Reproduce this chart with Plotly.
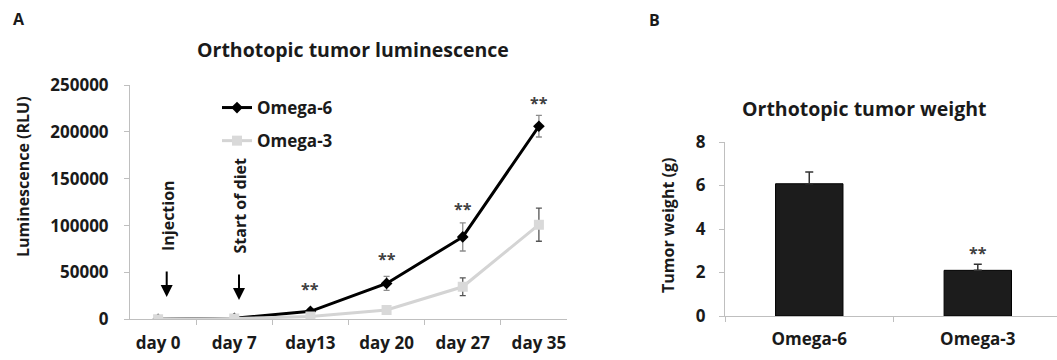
import plotly.graph_objects as go

# ---------------- data ----------------
days = ["day 0", "day 7", "day13", "day 20", "day 27", "day 35"]
omega6_lum = [0, 1000, 8500, 38300, 87900, 206000]
omega6_err = [0, 300, 2000, 7500, 15000, 11500]
omega3_lum = [0, 800, 3000, 10000, 34700, 101000]
omega3_err = [0, 300, 800, 1500, 9500, 17700]
sig_days = ["day13", "day 20", "day 27", "day 35"]

groups = ["Omega-6", "Omega-3"]
weight = [6.08, 2.1]
weight_err = [0.54, 0.28]
sig_groups = ["Omega-3"]

lum_ticks = [0, 50000, 100000, 150000, 200000, 250000]
w_ticks = [0, 2, 4, 6, 8]

W, H = 1057, 360
FONT = "Open Sans"
TXT = "#1a1a1a"
AX = "#bfbfbf"


def px(x):
    return x / W


def py(y):
    return 1 - y / H


fig = go.Figure()

fig.add_trace(go.Scatter(
    x=days, y=omega6_lum, name="Omega-6", mode="lines+markers",
    line=dict(color="#000000", width=3),
    marker=dict(symbol="diamond", size=9, color="#000000"),
    error_y=dict(type="data", array=omega6_err, color="#8c8c8c", thickness=1.3, width=3),
    xaxis="x", yaxis="y", legendgroup="a",
))
fig.add_trace(go.Scatter(
    x=days, y=omega3_lum, name="Omega-3", mode="lines+markers",
    line=dict(color="#d4d4d4", width=3),
    marker=dict(symbol="square", size=10, color="#d9d9d9"),
    error_y=dict(type="data", array=omega3_err, color="#555555", thickness=1.3, width=3),
    xaxis="x", yaxis="y", legendgroup="b",
))
fig.add_trace(go.Bar(
    x=groups, y=weight, showlegend=False, width=0.4,
    marker=dict(color="#1c1c1c", line=dict(color="#000000", width=1)),
    error_y=dict(type="data", array=weight_err, symmetric=False,
                 arrayminus=[0, 0], color="#333333", thickness=1.5, width=4),
    xaxis="x2", yaxis="y2",
))

axis_common = dict(showgrid=False, zeroline=False, showline=True, linecolor=AX, linewidth=1,
                   ticks="outside", tickcolor=AX, ticklen=5, automargin=False,
                   tickfont=dict(family=FONT, size=17, color=TXT, weight="bold"))

fig.update_layout(
    template="none",
    width=W, height=H, margin=dict(l=0, r=0, t=0, b=0, pad=0, autoexpand=False),
    paper_bgcolor="white", plot_bgcolor="white",
    font=dict(family=FONT, color=TXT),
    xaxis=dict(domain=[px(130), px(567)], type="category", tickson="boundaries",
               ticklabelstandoff=8, anchor="y", **axis_common),
    yaxis=dict(domain=[py(319.3), py(85)], range=[0, 250000], tickvals=lum_ticks,
               ticktext=[str(v) for v in lum_ticks], ticklabelstandoff=12, anchor="x", **axis_common),
    xaxis2=dict(domain=[px(725), 1.0], type="category", tickson="boundaries",
                range=[-0.5, 1.47], ticklabelstandoff=8, anchor="y2", **axis_common),
    yaxis2=dict(domain=[py(316), py(142)], range=[0, 8], tickvals=w_ticks,
                ticklabelstandoff=10, anchor="x2", **axis_common),
    showlegend=True,
    legend=dict(x=px(217), y=py(90), xanchor="left", yanchor="top",
                bgcolor="rgba(0,0,0,0)", traceorder="grouped", tracegroupgap=8,
                font=dict(family=FONT, size=17, color=TXT, weight="bold")),
    bargap=0.6,
)

ann = []
bold = lambda s: dict(family=FONT, size=s, color=TXT, weight="bold")


def label(text, x, y, size=16, angle=0, **kw):
    ann.append(dict(text=text, x=px(x), y=py(y), xref="paper", yref="paper", showarrow=False,
                    xanchor="center", yanchor="middle", textangle=angle, font=bold(size), **kw))


label("A", 18.5, 19)
label("B", 654, 20)
label("Orthotopic tumor luminescence", 353, 50, 19.5)
label("Orthotopic tumor weight", 865, 108, 19.5)
label("Luminescence (RLU)", 23, 177, 16, -90)
label("Tumor weight (g)", 668, 226, 16, -90)
label("Injection", 168, 216, 16, -90)
label("Start of diet", 239.5, 206, 16, -90)
# arrows
for xa, yhead, ytail in [(166.7, 297, 270), (239, 300, 273)]:
    ann.append(dict(text="", x=px(xa), y=py(yhead), xref="paper", yref="paper",
                    ax=0, ay=ytail - yhead, axref="pixel", ayref="pixel",
                    showarrow=True, arrowhead=2, arrowsize=1.2, arrowwidth=2, arrowcolor="#000000"))
# significance stars
star_y = {"day13": 285, "day 20": 254.5, "day 27": 204.5, "day 35": 99}
sfont = dict(family=FONT, size=16, color="#404040", weight="bold")
for d in sig_days:
    ann.append(dict(text="**", x=d, y=py(star_y[d] + 4), xref="x", yref="paper", showarrow=False,
                    xanchor="center", yanchor="middle", font=sfont))
for g in sig_groups:
    ann.append(dict(text="**", x=g, y=py(249 + 4), xref="x2", yref="paper", showarrow=False,
                    xanchor="center", yanchor="middle", font=sfont))
fig.update_layout(annotations=ann)

fig.write_html("out.html", config={"displayModeBar": False},
               post_script="document.body.style.margin='0px';document.body.style.overflow='hidden';")
